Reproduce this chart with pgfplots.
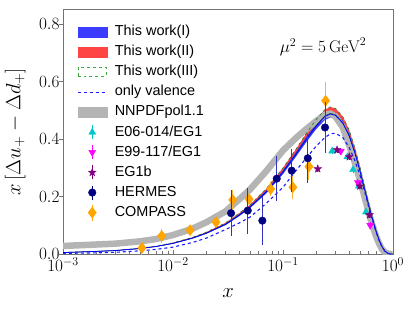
\documentclass[border=0pt]{standalone}
\usepackage{fontspec}
\usepackage{pgfplots}
\pgfplotsset{compat=1.18}
\usepgfplotslibrary{fillbetween}
\usepackage{pgfplotstable}
\newfontfamily\lsans{Liberation Sans}
\definecolor{cblue}{HTML}{3C3CFF}
\definecolor{cred}{HTML}{FF4444}
\definecolor{cgreen}{HTML}{3DA83D}
\definecolor{cgray}{HTML}{B4B4B4}
\definecolor{corange}{HTML}{FFA500}
\definecolor{cnavy}{HTML}{000080}
\definecolor{cpurple}{HTML}{800080}
\definecolor{ccyan}{HTML}{00C8C8}
\definecolor{cmag}{HTML}{FF00FF}
\definecolor{cvalence}{HTML}{1A1AFF}

\pgfdeclareplotmark{fstar}{%
 \pgfpathmoveto{\pgfqpointpolar{90}{\pgfplotmarksize}}%
 \pgfpathlineto{\pgfqpointpolar{126}{0.42\pgfplotmarksize}}%
 \pgfpathlineto{\pgfqpointpolar{162}{\pgfplotmarksize}}%
 \pgfpathlineto{\pgfqpointpolar{198}{0.42\pgfplotmarksize}}%
 \pgfpathlineto{\pgfqpointpolar{234}{\pgfplotmarksize}}%
 \pgfpathlineto{\pgfqpointpolar{270}{0.42\pgfplotmarksize}}%
 \pgfpathlineto{\pgfqpointpolar{306}{\pgfplotmarksize}}%
 \pgfpathlineto{\pgfqpointpolar{342}{0.42\pgfplotmarksize}}%
 \pgfpathlineto{\pgfqpointpolar{18}{\pgfplotmarksize}}%
 \pgfpathlineto{\pgfqpointpolar{54}{0.42\pgfplotmarksize}}%
 \pgfpathclose\pgfusepathqfillstroke}

\pgfplotstableread{
x      c     blo    bhi    rlo    rhi    val    nn
0.001  0.005 0.0049 0.0051 0.0050 0.0053 0.002 0.028
0.002  0.009 0.0088 0.0092 0.0091 0.0095 0.004 0.033
0.003  0.012 0.0117 0.0122 0.0121 0.0126 0.006 0.036
0.005  0.019 0.0185 0.0194 0.0191 0.0200 0.011 0.044
0.007  0.026 0.0254 0.0265 0.0261 0.0273 0.016 0.052
0.01   0.037 0.0360 0.0377 0.0372 0.0389 0.024 0.066
0.015  0.055 0.0536 0.0561 0.0553 0.0578 0.040 0.088
0.02   0.072 0.0702 0.0734 0.0724 0.0756 0.055 0.110
0.03   0.103 0.1004 0.1051 0.1035 0.1082 0.085 0.148
0.04   0.135 0.1316 0.1377 0.1357 0.1418 0.108 0.190
0.05   0.163 0.1589 0.1663 0.1638 0.1712 0.128 0.224
0.07   0.215 0.2096 0.2193 0.2161 0.2258 0.175 0.287
0.1    0.285 0.2779 0.2907 0.2864 0.2993 0.232 0.360
0.13   0.345 0.3364 0.3519 0.3467 0.3623 0.288 0.402
0.16   0.395 0.3851 0.4029 0.3970 0.4148 0.330 0.432
0.2    0.445 0.4339 0.4539 0.4472 0.4673 0.375 0.462
0.24   0.478 0.4660 0.4876 0.4804 0.5019 0.405 0.484
0.27   0.487 0.4748 0.4967 0.4894 0.5114 0.418 0.488
0.3    0.482 0.4700 0.4916 0.4844 0.5061 0.420 0.478
0.35   0.455 0.4436 0.4641 0.4573 0.4778 0.405 0.440
0.4    0.410 0.3998 0.4182 0.4121 0.4305 0.370 0.378
0.45   0.352 0.3432 0.3590 0.3538 0.3696 0.325 0.318
0.5    0.290 0.2828 0.2958 0.2915 0.3045 0.275 0.258
0.55   0.228 0.2223 0.2326 0.2291 0.2394 0.220 0.200
0.6    0.170 0.1658 0.1734 0.1709 0.1785 0.165 0.145
0.65   0.122 0.1190 0.1244 0.1226 0.1281 0.118 0.100
0.7    0.080 0.0780 0.0816 0.0804 0.0840 0.077 0.063
0.75   0.047 0.0458 0.0479 0.0472 0.0494 0.045 0.035
0.8    0.023 0.0224 0.0235 0.0231 0.0242 0.022 0.015
0.85   0.009 0.0088 0.0092 0.0090 0.0095 0.008 0.005
0.9    0.002 0.0020 0.0020 0.0020 0.0021 0.002 0.001
0.95   0.000 0.0000 0.0000 0.0000 0.0000 0.000 0.000
0.99   0.000 0.0000 0.0000 0.0000 0.0000 0.000 0.000
}\curves

\pgfplotstableread{
x       y     e
0.00522 0.021 0.028
0.0079  0.063 0.025
0.0143  0.083 0.016
0.0246  0.111 0.012
0.0349  0.188 0.035
0.0491  0.191 0.018
0.0773  0.226 0.026
0.123   0.232 0.040
0.172   0.304 0.045
0.244   0.533 0.065
}\compass

\pgfplotstableread{
x      y     e
0.0337 0.142 0.080
0.0478 0.151 0.080
0.0649 0.116 0.085
0.0877 0.262 0.078
0.12   0.290 0.075
0.168  0.333 0.085
0.241  0.440 0.090
}\hermes

\pgfplotstableread{
x     y     e
0.207 0.296 0.012
0.31  0.362 0.010
0.40  0.338 0.010
0.50  0.236 0.010
0.612 0.136 0.010
}\eglb

\pgfplotstableread{
x     y     e
0.280 0.358 0.010
0.385 0.338 0.010
0.433 0.293 0.010
0.49  0.236 0.010
0.567 0.146 0.012
}\eofour

\pgfplotstableread{
x     y     e
0.336 0.358 0.012
0.48  0.248 0.012
0.62  0.100 0.012
}\enine

\pgfplotsset{
 fillleg/.style={legend image code/.code={\fill[#1] (0bp,-5bp) rectangle (29bp,5bp);}},
 ptleg/.style 2 args={legend image code/.code={\draw[#1, line width=1pt] (14.5bp,-7bp) -- (14.5bp,7bp);
   \path[fill=#1, draw=#1, #2] plot[mark=#2] coordinates {(14.5bp,0bp)};}},
}

\begin{document}
\begin{tikzpicture}
\begin{axis}[name=ax,
 xmode=log, width=330bp, height=245bp, scale only axis,
 xmin=1e-3, xmax=1, ymin=0, ymax=0.852,
 xtick={1e-3,1e-2,1e-1,1},
 ytick={0,0.2,0.4,0.6,0.8},
 yticklabel style={/pgf/number format/.cd, fixed, fixed zerofill, precision=1},
 xtick pos=bottom, ytick pos=left,
 tick align=inside,
 major tick length=4bp, minor tick length=3bp,
 ytick style={xshift=-4bp},
 axis line style={black!55},
 every tick/.style={black!55},
 tick label style={font=\fontsize{17.5}{20}\selectfont},
 ylabel={$x\left[\Delta u_+ - \Delta d_+\right]$},
 ylabel style={font=\fontsize{20}{24}\selectfont, at={(axis description cs:-0.145,0.5)}, anchor=center},
 xlabel={$x$},
 xlabel style={font=\fontsize{21}{24}\selectfont, at={(axis description cs:0.5,-0.16)}, anchor=center},
 legend style={at={(axis description cs:0,1)}, anchor=north west, xshift=14bp, yshift=-12.5bp,
   draw=none, fill=none, inner sep=0pt, column sep=4.5bp,
   font=\lsans\fontsize{14.5}{17}\selectfont,
   nodes={text height=10.5bp, text depth=3bp, inner ysep=3.3bp, inner xsep=3bp}},
 legend cell align=left,
 clip mode=individual,
]
% legend entries
\addlegendimage{fillleg=cblue}
\addlegendentry{This work(I)}
\addlegendimage{fillleg=cred}
\addlegendentry{This work(II)}
\addlegendimage{legend image code/.code={\draw[cgreen, dashed, line width=0.9pt] (0.5bp,-4.5bp) rectangle (28.5bp,4.5bp);}}
\addlegendentry{This work(III)}
\addlegendimage{legend image code/.code={\draw[cvalence, dashed, line width=1.1pt] (0bp,0bp) -- (29bp,0bp);}}
\addlegendentry{only valence}
\addlegendimage{fillleg=cgray}
\addlegendentry{NNPDFpol1.1}
\addlegendimage{legend image code/.code={\draw[ccyan, line width=1pt] (14.5bp,-7bp) -- (14.5bp,7bp);
   \path[fill=ccyan, draw=ccyan, mark size=4bp] plot[mark=triangle*] coordinates {(14.5bp,0bp)};}}
\addlegendentry{E06-014/EG1}
\addlegendimage{legend image code/.code={\draw[cmag, line width=1pt] (14.5bp,-7bp) -- (14.5bp,7bp);
   \path[fill=cmag, draw=cmag, mark size=4bp] plot[mark=triangle*, mark options={rotate=180}] coordinates {(14.5bp,0bp)};}}
\addlegendentry{E99-117/EG1}
\addlegendimage{legend image code/.code={\draw[cpurple, line width=1pt] (14.5bp,-7bp) -- (14.5bp,7bp);
   \path[fill=cpurple, draw=cpurple, mark size=4bp] plot[mark=fstar] coordinates {(14.5bp,0bp)};}}
\addlegendentry{EG1b}
\addlegendimage{legend image code/.code={\draw[cnavy, line width=1pt] (14.5bp,-7bp) -- (14.5bp,7bp);
   \path[fill=cnavy, draw=cnavy, mark size=3.8bp] plot[mark=*] coordinates {(14.5bp,0bp)};}}
\addlegendentry{HERMES}
\addlegendimage{legend image code/.code={\draw[corange, line width=1pt] (14.5bp,-8bp) -- (14.5bp,8bp);
   \path[fill=corange, draw=corange, mark size=5.5bp] plot[mark=diamond*] coordinates {(14.5bp,0bp)};}}
\addlegendentry{COMPASS}

% NNPDF
\addplot[cgray, line width=6.5bp, forget plot] table[x=x, y=nn] {\curves};
% bands
\addplot[name path=blo, draw=none, forget plot] table[x=x, y=blo] {\curves};
\addplot[name path=bhi, draw=none, forget plot] table[x=x, y=bhi] {\curves};
\addplot[name path=rlo, draw=none, forget plot] table[x=x, y=rlo] {\curves};
\addplot[name path=rhi, draw=none, forget plot] table[x=x, y=rhi] {\curves};
\addplot[fill=cred, draw=none, forget plot] fill between[of=rlo and rhi];
\addplot[fill=cblue, draw=none, forget plot] fill between[of=blo and bhi];
\addplot[cgreen!70!black, dashed, line width=0.6pt, forget plot] table[x=x, y=rhi] {\curves};
\addplot[cgreen!70!black, line width=0.6pt, forget plot] table[x=x, y=rlo] {\curves};
\addplot[blue, line width=0.8pt, forget plot] table[x=x, y=c] {\curves};
% valence
\addplot[cvalence, dashed, line width=1.1pt, forget plot] table[x=x, y=val] {\curves};

% data
\addplot[forget plot, only marks, corange, mark=diamond*, mark size=5.5bp,
  error bars/.cd, y dir=both, y explicit, error bar style={corange!80, line width=1pt}, error mark=none]
  table[x=x, y=y, y error=e] {\compass};
\addplot[forget plot, only marks, cnavy, mark=*, mark size=3.8bp,
  error bars/.cd, y dir=both, y explicit, error bar style={cnavy!60!blue!80, line width=1pt}, error mark=none]
  table[x=x, y=y, y error=e] {\hermes};
\addplot[forget plot, only marks, ccyan, mark=triangle*, mark size=4bp,
  error bars/.cd, y dir=both, y explicit, error bar style={ccyan, line width=1pt}, error mark=none]
  table[x=x, y=y, y error=e] {\eofour};
\addplot[forget plot, only marks, cmag, mark=triangle*, mark size=4bp, mark options={rotate=180},
  error bars/.cd, y dir=both, y explicit, error bar style={cmag, line width=1pt}, error mark=none]
  table[x=x, y=y, y error=e] {\enine};
\addplot[forget plot, only marks, cpurple, mark=fstar, mark size=4bp,
  error bars/.cd, y dir=both, y explicit, error bar style={cpurple, line width=1pt}, error mark=none]
  table[x=x, y=y, y error=e] {\eglb};

\node[font=\fontsize{17}{20}\selectfont] at (axis description cs:0.788,0.845) {$\mu^2 = 5\,\mathrm{GeV}^2$};
\end{axis}
\pgfresetboundingbox
\path ([shift={(-63bp,-58bp)}]ax.south west) rectangle ([shift={(22bp,9bp)}]ax.north east);
\end{tikzpicture}
\end{document}
